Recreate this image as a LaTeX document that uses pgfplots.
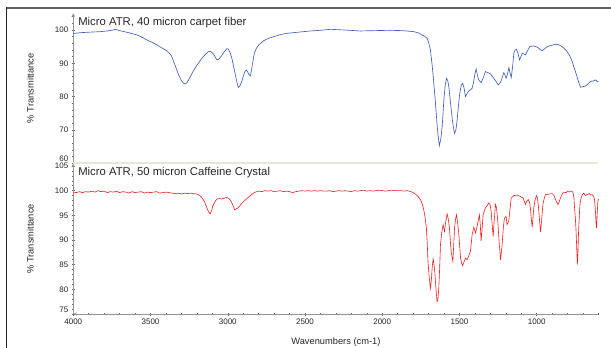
\documentclass[border=0pt]{standalone}
\usepackage{fontspec}
\setmainfont{Liberation Sans}
\usepackage{pgfplots}
\pgfplotsset{compat=1.18}
\definecolor{specblue}{RGB}{65,95,190}
\definecolor{specred}{RGB}{240,30,30}
\definecolor{sepbeige}{RGB}{232,230,214}
\definecolor{axgray}{RGB}{150,150,150}
\definecolor{framegray}{RGB}{95,95,95}
\pgfplotsset{
  specaxis/.style={
    scale only axis, width=525.2pt, x dir=reverse, xmin=600, xmax=4000,
    axis line style={-, color=axgray, line width=0.6pt},
    tick align=outside, tick style={color=black!60, line width=0.5pt},
    major tick length=3pt, minor tick length=2pt,
    tick label style={font=\fontsize{8}{9}\selectfont, text=black!85},
    /pgf/number format/assume math mode=true,
    /pgf/number format/1000 sep={},
    label style={font=\fontsize{9.3}{11}\selectfont, text=black!85},
    ylabel={\% Transmittance},
    ylabel style={at={(axis description cs:-0.082,0.5)}, anchor=center},
    clip=false,
  }
}
\begin{document}
\begin{tikzpicture}
\useasboundingbox (0pt,0pt) rectangle (611pt,-348pt);
\draw[line width=2.5pt, framegray] (6pt,-8pt) -- (611pt,-8pt);
\draw[line width=1pt, black!85] (6pt,-7pt) -- (6pt,-348pt);
\begin{axis}[specaxis, at={(73.3pt,-13.3pt)}, anchor=north west, height=150pt,
  ymin=60, ymax=105, axis x line=none, axis y line=left,
  ytick={60,70,80,90,100}, minor ytick={62,64,...,104},
  yticklabel style={yshift={ifthenelse(\ticknum==0,4.5,0)}},
]
\draw[sepbeige, line width=2pt] (rel axis cs:0,0) -- (rel axis cs:1,0);
\node[anchor=west, font=\fontsize{11.3}{13}\selectfont, text=black!85] at ([xshift=1.5pt,yshift=-9.7pt]rel axis cs:0,1) {Micro ATR, 40 micron carpet fiber};
\addplot[specblue, line width=0.65pt] coordinates {
(4000,99.0)(3987,99.0)(3950,99.2)(3911,99.3)(3870,99.4)(3825,99.5)(3780,99.7)(3740,100.0)(3728,100.2)(3700,99.8)(3652,99.3)(3620,98.9)(3587,98.5)(3555,97.8)(3523,97.0)(3490,96.3)(3458,95.5)(3430,94.7)(3404,94.0)(3383,93.3)(3365,92.3)(3350,90.5)(3334,88.5)(3318,86.5)(3300,84.8)(3286,84.0)(3275,83.8)(3264,84.2)(3248,85.5)(3231,87.0)(3215,88.3)(3199,89.5)(3183,90.5)(3167,91.5)(3145,92.7)(3123,93.6)(3108,93.5)(3091,92.7)(3080,91.8)(3070,91.0)(3057,91.3)(3044,92.0)(3025,93.3)(3005,94.4)(2995,94.2)(2983,93.0)(2972,91.2)(2962,89.0)(2952,86.8)(2944,85.0)(2937,83.5)(2930,82.8)(2922,83.2)(2914,84.0)(2905,85.2)(2897,86.5)(2888,87.6)(2880,88.0)(2872,87.5)(2865,86.8)(2854,86.2)(2848,87.5)(2843,89.0)(2835,91.2)(2828,93.0)(2815,94.5)(2800,95.5)(2767,96.8)(2735,97.5)(2703,98.0)(2660,98.6)(2616,99.0)(2570,99.2)(2530,99.4)(2465,99.7)(2400,99.9)(2335,100.2)(2250,100.0)(2141,99.7)(2050,99.8)(1947,99.9)(1870,99.8)(1796,99.5)(1765,99.1)(1742,98.5)(1725,98.1)(1709,97.5)(1698,96.0)(1688,94.0)(1677,89.5)(1666,84.0)(1657,79.0)(1649,74.0)(1640,69.0)(1630,65.3)(1620,67.5)(1612,71.0)(1601,79.0)(1592,83.5)(1584,85.5)(1576,84.8)(1569,83.0)(1561,79.5)(1553,76.0)(1542,71.5)(1532,69.0)(1523,70.0)(1515,73.0)(1506,77.5)(1498,81.0)(1488,83.5)(1479,84.0)(1470,82.5)(1461,80.0)(1452,80.8)(1444,81.5)(1430,82.0)(1418,82.5)(1410,84.0)(1403,86.0)(1397,87.5)(1392,88.3)(1384,86.5)(1375,85.0)(1360,84.2)(1345,85.8)(1332,87.5)(1315,87.2)(1299,86.8)(1289,86.2)(1278,85.5)(1262,84.5)(1249,83.5)(1238,84.0)(1228,85.0)(1220,86.3)(1213,87.2)(1205,86.5)(1198,85.5)(1189,86.8)(1180,88.7)(1172,87.0)(1165,85.7)(1156,89.0)(1148,93.0)(1140,94.0)(1131,94.2)(1121,93.0)(1111,91.0)(1102,92.0)(1094,93.0)(1083,92.8)(1073,92.5)(1060,93.7)(1045,95.0)(1030,95.2)(1019,95.2)(1000,94.9)(986,94.5)(975,94.0)(965,93.8)(950,94.3)(932,95.0)(905,95.4)(878,95.7)(860,95.6)(846,95.3)(825,94.6)(803,93.5)(785,92.2)(770,90.5)(760,89.0)(749,87.5)(733,85.0)(716,82.8)(700,83.0)(684,83.2)(668,83.8)(652,84.5)(635,84.7)(619,85.0)(608,84.6)(600,84.5)
};
\end{axis}
\begin{axis}[specaxis, at={(73.3pt,-163.5pt)}, anchor=north west, height=150.5pt,
  ymin=75, ymax=105.5, axis x line=bottom, axis y line=left,
  ytick={75,80,...,105}, minor ytick={76,77,...,104},
  yticklabel style={yshift={ifthenelse(\ticknum==0,4.5,0)}},
  xtick={1000,1500,...,4000}, minor xtick={600,700,...,4000},
  xlabel={Wavenumbers (cm-1)},
  xlabel style={at={(axis description cs:0.5,0)}, anchor=center, yshift=-27.7pt},
]
\node[anchor=west, font=\fontsize{11.3}{13}\selectfont, text=black!85] at ([xshift=1.5pt,yshift=-9.5pt]rel axis cs:0,1) {Micro ATR, 50 micron Caffeine Crystal};
\addplot[specred, line width=0.6pt] coordinates {
(4000,99.7)(3980,99.6)(3960,99.8)(3940,99.6)(3920,99.8)(3900,99.7)(3880,99.9)(3860,99.7)(3840,100.0)(3820,99.8)(3800,99.9)(3780,99.6)(3760,99.8)(3740,99.7)(3720,99.9)(3700,99.6)(3680,99.8)(3660,99.7)(3640,99.5)(3620,99.8)(3600,99.6)(3580,99.7)(3560,99.8)(3540,99.5)(3520,99.7)(3500,99.6)(3480,99.7)(3460,99.8)(3440,99.5)(3420,99.6)(3400,99.7)(3380,99.6)(3360,99.5)(3340,99.4)(3320,99.5)(3300,99.3)(3280,99.5)(3260,99.4)(3240,99.5)(3220,99.4)(3200,99.3)(3185,99.1)(3170,98.7)(3160,98.2)(3151,97.8)(3140,96.9)(3130,96.1)(3120,95.5)(3114,95.3)(3105,95.9)(3098,96.8)(3092,97.2)(3080,97.9)(3070,98.3)(3055,98.4)(3040,98.3)(3025,98.5)(3005,98.6)(2990,98.3)(2980,97.9)(2972,97.4)(2962,96.7)(2955,96.1)(2945,96.3)(2930,96.6)(2915,97.2)(2897,97.8)(2880,98.3)(2865,98.7)(2854,99.0)(2838,99.4)(2822,99.7)(2800,99.9)(2780,99.8)(2760,100.0)(2740,99.9)(2720,100.0)(2700,99.8)(2680,99.9)(2660,100.0)(2640,99.8)(2620,99.9)(2600,99.8)(2580,99.6)(2560,99.8)(2540,99.9)(2520,100.0)(2500,99.9)(2480,100.0)(2460,99.9)(2440,100.0)(2420,99.9)(2400,100.0)(2380,99.9)(2360,99.9)(2340,100.0)(2320,99.8)(2300,99.9)(2280,100.0)(2260,99.9)(2240,100.0)(2220,99.9)(2200,99.8)(2180,100.0)(2160,99.9)(2140,100.0)(2120,100.1)(2100,99.9)(2080,100.0)(2060,99.9)(2040,100.0)(2020,100.1)(2000,100.0)(1980,99.9)(1960,100.0)(1940,100.1)(1920,100.0)(1900,100.0)(1880,100.0)(1860,99.9)(1840,100.0)(1826,99.9)(1805,99.7)(1785,99.3)(1770,98.9)(1753,98.2)(1742,97.4)(1731,96.1)(1722,94.5)(1714,92.4)(1708,89.0)(1704,85.7)(1696,82.5)(1688,80.2)(1682,81.8)(1677,84.3)(1671,86.2)(1666,85.3)(1660,83.6)(1652,80.0)(1645,77.5)(1640,77.8)(1634,80.2)(1628,84.5)(1623,89.0)(1615,91.5)(1606,93.1)(1597,91.7)(1590,93.5)(1580,95.3)(1572,94.2)(1565,92.4)(1554,87.7)(1543,85.7)(1538,88.5)(1532,92.4)(1525,94.3)(1519,95.1)(1512,93.5)(1504,91.1)(1493,86.3)(1485,85.2)(1479,84.8)(1470,85.6)(1461,86.3)(1450,86.0)(1440,86.8)(1429,87.7)(1418,91.1)(1407,92.6)(1396,91.4)(1386,92.8)(1378,94.0)(1371,95.1)(1365,93.0)(1360,89.7)(1354,92.0)(1347,95.1)(1332,96.5)(1320,97.0)(1310,97.5)(1302,97.2)(1295,95.8)(1288,93.0)(1282,90.7)(1275,94.0)(1267,97.2)(1260,96.5)(1252,93.8)(1243,89.5)(1234,86.0)(1224,89.0)(1216,92.5)(1209,94.4)(1198,94.8)(1192,93.1)(1181,93.8)(1172,96.5)(1165,98.5)(1148,99.0)(1125,99.1)(1105,98.8)(1088,98.5)(1073,97.2)(1065,97.8)(1055,98.2)(1045,97.5)(1040,96.1)(1034,94.0)(1029,92.6)(1024,94.5)(1019,96.5)(1010,98.2)(1001,99.0)(995,98.5)(990,97.2)(983,94.5)(975,91.6)(968,94.0)(960,97.2)(950,98.6)(943,99.2)(920,99.3)(900,99.4)(888,99.0)(878,98.2)(870,97.6)(863,97.2)(855,97.7)(846,98.5)(835,99.3)(824,99.7)(810,99.6)(800,99.9)(790,99.7)(781,99.9)(770,99.8)(764,99.5)(759,98.5)(755,96.5)(750,94.5)(746,92.4)(741,88.5)(737,85.0)(733,87.5)(729,91.7)(724,95.0)(720,97.2)(713,98.5)(705,99.2)(695,99.5)(685,99.0)(673,99.2)(660,99.4)(650,99.1)(641,99.2)(632,98.9)(626,98.2)(620,96.0)(616,93.5)(613,92.4)(609,95.0)(604,97.8)(600,98.3)
};
\end{axis}
\end{tikzpicture}
\end{document}
